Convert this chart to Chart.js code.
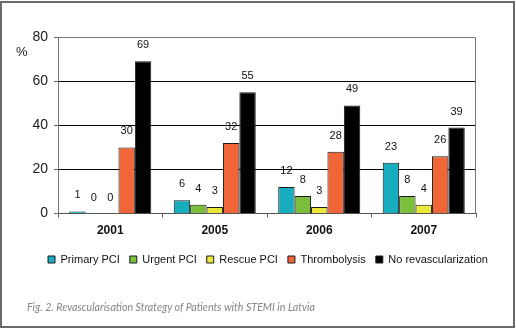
<!DOCTYPE html>
<html>
<head>
<meta charset="utf-8">
<script src="https://cdn.jsdelivr.net/npm/chart.js@4"></script>
<style>
  body { margin: 0; background: #fff; }
  #wrap { position: relative; width: 516px; height: 328px; }
  #frame { position: absolute; left: 0; top: 1px; width: 511px; height: 323px; border: 2px solid #6b6b6b; }
  #caption { position: absolute; left: 27px; top: 299px; font-family: Lato, sans-serif; font-style: italic;
             font-size: 12px; color: #858585; white-space: nowrap; transform-origin: 0 0; }
</style>
</head>
<body>
<div id="wrap">
  <canvas id="myChart" width="516" height="328"></canvas>
  <div id="frame"></div>
  <div id="caption">Fig. 2. Revascularisation Strategy of Patients with STEMI in Latvia</div>
</div>
<script>
// values
let years = ["2001", "2005", "2006", "2007"];
let primaryPCI = [1, 6, 12, 23];
let urgentPCI = [0, 4, 8, 8];
let rescuePCI = [0, 3, 3, 4];
let thrombolysis = [30, 32, 28, 26];
let noRevasc = [69, 55, 49, 39];
let yTicks = [0, 20, 40, 60, 80];

// squeeze the caption to the width it has in the picture
const cap = document.getElementById("caption");
cap.style.transform = "scaleX(" + (288 / cap.getBoundingClientRect().width) + ")";

function makeSet(label, color, data)
{
    return {
        label: label,
        data: data,
        backgroundColor: color,
        borderColor: "#1a1a1a",
        borderWidth: 1,
        categoryPercentage: 0.785,
        barPercentage: 1
    };
}

const valueLabels =
{
    id: "valueLabels",
    afterDatasetsDraw(chart)
    {
        const ctx = chart.ctx;
        ctx.save();
        ctx.font = "11px 'Liberation Sans', Arial, sans-serif";
        ctx.fillStyle = "#111";
        ctx.textAlign = "center";
        ctx.textBaseline = "middle";
        chart.data.datasets.forEach((ds, i) =>
        {
            chart.getDatasetMeta(i).data.forEach((bar, j) =>
            {
                ctx.fillText(ds.data[j], bar.x, bar.y - 16);
            });
        });
        // % sign next to the y axis
        ctx.font = "13px 'Liberation Sans', Arial, sans-serif";
        ctx.fillStyle = "#222";
        ctx.textAlign = "left";
        ctx.fillText("%", 16, 52);
        // grey box round the plot
        const a = chart.chartArea;
        ctx.strokeStyle = "#777";
        ctx.lineWidth = 1;
        ctx.beginPath();
        ctx.moveTo(a.left, a.top + 0.5);
        ctx.lineTo(a.right - 0.5, a.top + 0.5);
        ctx.lineTo(a.right - 0.5, a.bottom);
        ctx.stroke();
        ctx.restore();
    },
    beforeDraw(chart)
    {
        // move the legend a bit to the right, as in the picture
        if (!chart.legend._moved)
        {
            chart.legend.left += 10;
            chart.legend.right += 10;
            chart.legend._moved = true;
        }
    }
};

new Chart(document.getElementById("myChart"),
{
    type: "bar",
    data:
    {
        labels: years,
        datasets:
        [
            makeSet("Primary PCI", "#17adbf", primaryPCI),
            makeSet("Urgent PCI", "#7cbf3f", urgentPCI),
            makeSet("Rescue PCI", "#ece83a", rescuePCI),
            makeSet("Thrombolysis", "#f06638", thrombolysis),
            makeSet("No revascularization", "#000000", noRevasc)
        ]
    },
    options:
    {
        responsive: false,
        animation: false,
        layout: { padding: { left: 0, right: 0, top: 37, bottom: 53 } },
        plugins:
        {
            tooltip: { enabled: false },
            legend:
            {
                position: "bottom",
                labels:
                {
                    boxWidth: 7,
                    boxHeight: 7,
                    padding: 10,
                    color: "#111",
                    font: { family: "'Liberation Sans', Arial, sans-serif", size: 11 }
                }
            }
        },
        scales:
        {
            x:
            {
                grid: { drawOnChartArea: false, tickLength: 4, tickColor: "#666" },
                border: { color: "#555" },
                ticks:
                {
                    padding: 6,
                    color: "#111",
                    font: { family: "'Liberation Sans', Arial, sans-serif", size: 12, weight: "bold" }
                }
            },
            y:
            {
                min: 0,
                max: 80,
                afterFit(scale) { scale.width = 58; },
                afterBuildTicks(scale) { scale.ticks = yTicks.map(v => ({ value: v })); },
                grid:
                {
                    tickLength: 4,
                    tickColor: "#666",
                    color: ctx => (ctx.tick && (ctx.tick.value === 0 || ctx.tick.value === 80)) ? "rgba(0,0,0,0)" : "#000"
                },
                border: { color: "#777" },
                ticks:
                {
                    padding: 6,
                    color: "#222",
                    font: { family: "'Liberation Sans', Arial, sans-serif", size: 14 }
                }
            },
            // empty axis that only keeps the space on the right
            yRight:
            {
                position: "right",
                min: 0,
                max: 80,
                afterFit(scale) { scale.width = 40; },
                grid: { display: false },
                border: { display: false },
                ticks: { display: false }
            }
        }
    },
    plugins: [valueLabels]
});
</script>
</body>
</html>
